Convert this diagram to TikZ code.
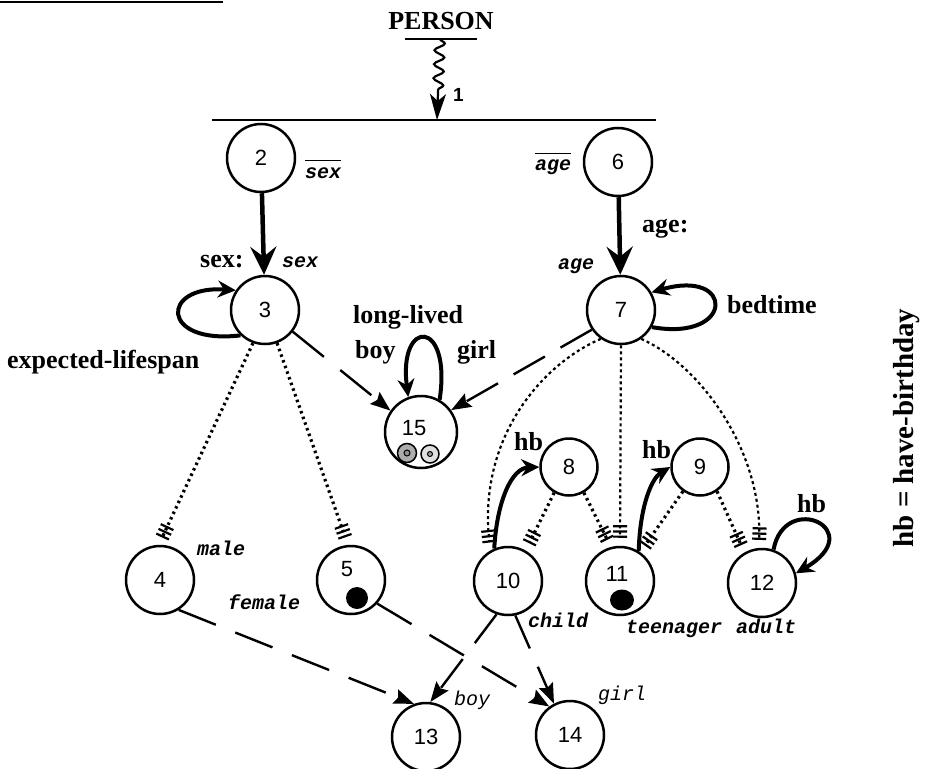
\documentclass[tikz,border=0pt]{standalone}
\usepackage{fontspec}
\setmainfont{Liberation Serif}
\newfontfamily\numfont{Liberation Sans}
\newfontfamily\codefont{Liberation Mono}
\usetikzlibrary{arrows.meta,decorations.pathmorphing,shapes.geometric}

\begin{document}
\begin{tikzpicture}[x=1pt,y=-1pt,
  state/.style={circle,draw,line width=2.5pt,minimum size=68pt,inner sep=0pt,
    font=\numfont\fontsize{22}{22}\selectfont},
  substate/.style={state,minimum size=57pt},
  num/.style={inner sep=0pt,font=\numfont\fontsize{22}{22}\selectfont},
  boldlbl/.style={inner sep=0pt,anchor=base west,font=\bfseries\fontsize{26}{26}\selectfont},
  codelbl/.style={inner sep=0pt,anchor=base west,font=\codefont\bfseries\itshape\fontsize{20}{20}\selectfont},
  lightlbl/.style={inner sep=0pt,anchor=base west,font=\codefont\itshape\fontsize{20}{20}\selectfont},
  rule/.style={line width=2.5pt},
  heavy/.style={line width=4.5pt,-{Stealth[length=28pt,width=26pt,inset=10pt]}},
  selfloop/.style={line width=4pt,-{Stealth[length=18pt,width=17pt,inset=6pt]}},
  dasharrow/.style={line width=2.4pt,dash pattern=on 40pt off 21pt,
    -{Stealth[length=20pt,width=15pt,inset=3pt]}},
  ticks/.style={-{Bar[width=14pt,line width=2.2pt,sep=3pt]Bar[width=14pt,line width=2.2pt,sep=3pt]Bar[width=14pt,line width=2.2pt,sep=3pt]},shorten >=5pt},
  dotline/.style={ticks,line width=3.2pt,dash pattern=on 2.5pt off 3.5pt},
  thindots/.style={ticks,line width=2.2pt,dash pattern=on 3pt off 3pt},
  dot/.style={circle,fill=black,inner sep=0pt,minimum size=22pt},
]
\useasboundingbox (0,0) rectangle (928,768);

% cut-off heading rule
\coordinate (hl) at (0,2);
\coordinate (hr) at (223,2);
\draw[line width=2pt] (hl) -- (hr);

% class header with its bar and the attribute line below
\node[boldlbl,anchor=base] (person) at (441,30) {PERSON};
\coordinate (pl) at (405,39);
\coordinate (pr) at (477,39);
\coordinate (pw) at (440,39);
\coordinate (tl) at (212,120);
\coordinate (tr) at (656,120);
\coordinate (tw) at (437,120);
\draw[rule] (pl) -- (pr);
\draw[rule] (tl) -- (tr);
\draw[line width=2.2pt,decorate,
  decoration={snake,amplitude=5pt,segment length=14pt,post length=30pt},
  -{Stealth[length=26pt,width=16pt,inset=7pt]}] (pw) -- (tw);
\node[inner sep=0pt,anchor=base west,font=\numfont\bfseries\fontsize{19}{19}\selectfont] (one) at (453,101) {1};

% states
\node[state] (n2) at (261,158) {2};
\node[state] (n3) at (265,310) {3};
\node[state] (n6) at (618,162) {6};
\node[state] (n7) at (621,310) {7};
\node[state] (n4) at (160,580) {4};
\node[state] (n5) at (351,580) {};
\node[num] (n5t) at (347,569) {5};
\node[dot] (n5d) at (357,598) {};
\node[state,minimum size=72pt] (n15) at (421,432) {};
\node[num] (n15t) at (414,428) {15};
\node[circle,draw,line width=1.5pt,fill=gray!65,minimum size=19pt,inner sep=0pt] (d1) at (407,453) {};
\node[circle,draw,line width=1pt,fill=gray!85,minimum size=6pt,inner sep=0pt] (d1c) at (407,453) {};
\node[circle,draw,line width=1.5pt,fill=gray!25,minimum size=18pt,inner sep=0pt] (d2) at (430,454) {};
\node[circle,draw,line width=1pt,fill=gray!75,minimum size=5pt,inner sep=0pt] (d2c) at (430,454) {};
\node[substate] (n8) at (569,467) {8};
\node[substate] (n9) at (700,467) {9};
\node[state] (n10) at (508,581) {10};
\node[state] (n11) at (620,581) {};
\node[num] (n11t) at (617,574) {11};
\node[ellipse,fill=black,inner sep=0pt,minimum width=24pt,minimum height=21pt] (n11d) at (622,600) {};
\node[state] (n12) at (762,583) {12};
\node[state] (n13) at (426,737) {13};
\node[state] (n14) at (570,735) {14};

% labels
\node[codelbl,text height=17pt] (sexbar) at (305,178) {sex};
\draw[line width=1.3pt] (sexbar.north west) -- (sexbar.north east);
\node[codelbl,text height=16pt] (agebar) at (535,170) {age};
\draw[line width=1.3pt] (agebar.north west) -- (agebar.north east);
\node[boldlbl] (sexcolon) at (200,267) {sex:};
\node[codelbl] (sexin) at (282,267) {sex};
\node[boldlbl] (agecolon) at (642,232) {age:};
\node[codelbl] (agein) at (558,269) {age};
\node[boldlbl] (explife) at (7,368) {expected-lifespan};
\node[boldlbl] (longlived) at (353,323) {long-lived};
\node[boldlbl] (boylbl) at (355,358) {boy};
\node[boldlbl] (girllbl) at (457,358) {girl};
\node[boldlbl] (bedtime) at (727,313) {bedtime};
\node[boldlbl] (hb1) at (514,450) {hb};
\node[boldlbl] (hb2) at (642,458) {hb};
\node[boldlbl] (hb3) at (797,512) {hb};
\node[codelbl] (male) at (197,555) {male};
\node[codelbl] (female) at (228,609) {female};
\node[codelbl] (child) at (528,627) {child};
\node[codelbl] (teen) at (626,633) {teenager};
\node[codelbl] (adult) at (736,633) {adult};
\node[lightlbl] (boy) at (454,705) {boy};
\node[lightlbl] (girl) at (598,700) {girl};
\node[rotate=90,inner sep=0pt,font=\bfseries\fontsize{29}{29}\selectfont] (legend) at (907,428) {hb = have-birthday};

% structural arrows
\draw[heavy] (n2) -- (n3);
\draw[heavy] (n6) -- (n7);

% self loops
\draw[selfloop] (n3.226) .. controls (160,345) and (160,285) .. (n3.146);
\draw[selfloop] (n7.-29) .. controls (735,342) and (735,268) .. (n7.30);
\draw[selfloop] (n15.60) .. controls (452,318) and (398,318) .. (n15.110);
\draw[selfloop] (n12.71) .. controls (785,490) and (870,530) .. (n12.16);

% have-birthday transitions
\draw[selfloop] (n10.113) .. controls (497,500) and (512,468) .. (n8.180);
\draw[selfloop] (n11.58) .. controls (640,505) and (652,478) .. (n9.180);

% specialisation links
\draw[dotline] (n3.250) -- (n4.92);
\draw[dotline] (n3.290) -- (n5.95);
\draw[dotline] (n8.240) -- (n10.60);
\draw[dotline] (n8.300) -- (n11.105);
\draw[dotline] (n9.235) -- (n11.55);
\draw[dotline] (n9.305) -- (n12.120);
\draw[thindots] (n7.270) -- (n11.90);
\draw[thindots] (n7.235) .. controls (540,365) and (478,440) .. (n10.120);
\draw[thindots] (n7.305) .. controls (700,365) and (762,450) .. (n12.95);

% dashed dependencies
\draw[dasharrow] (n3.-38) -- (n15.145);
\draw[dasharrow,dash pattern=on 36pt off 18pt] (n7.214) -- (n15.36);
\draw[dasharrow] (n4.-58) -- (n13.110);
\draw[dasharrow] (n5.-42) -- (n14.126);
\draw[dasharrow,dash pattern=on 36pt off 20pt] (n10.-109) -- (n13.83);
\draw[dasharrow,dash pattern=on 36pt off 20pt] (n10.-78) -- (n14.117);
\end{tikzpicture}
\end{document}
